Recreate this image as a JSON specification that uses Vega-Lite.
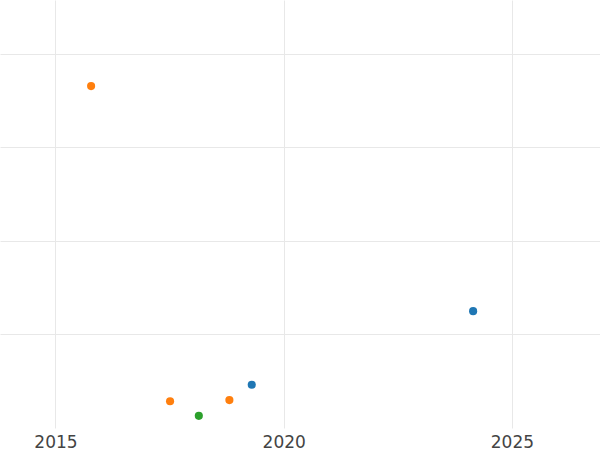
{
  "$schema": "https://vega.github.io/schema/vega-lite/v6.json",
  "width": 600,
  "height": 428,
  "autosize": {"type": "none"},
  "padding": {"left": 0, "right": 0, "top": 0, "bottom": 22},
  "background": "white",
  "config": {"view": {"stroke": null}},
  "data": {
    "values": [
      {"year": 2015.78, "value": 182.6, "group": "B"},
      {"year": 2017.51, "value": 14.3, "group": "B"},
      {"year": 2018.14, "value": 6.5, "group": "C"},
      {"year": 2018.81, "value": 14.9, "group": "B"},
      {"year": 2019.30, "value": 23.1, "group": "A"},
      {"year": 2024.15, "value": 62.4, "group": "A"}
    ]
  },
  "mark": {"type": "circle", "size": 66, "opacity": 1},
  "encoding": {
    "x": {
      "field": "year",
      "type": "quantitative",
      "scale": {"domain": [2013.784, 2026.93], "nice": false, "zero": false},
      "axis": {
        "title": null,
        "values": [2015, 2020, 2025],
        "format": "d",
        "ticks": false,
        "domain": false,
        "grid": true,
        "gridColor": "#e8e8e8",
        "gridWidth": 1,
        "labelFont": "DejaVu Sans",
        "labelFontSize": 17,
        "labelColor": "#444444",
        "labelPadding": 6
      }
    },
    "y": {
      "field": "value",
      "type": "quantitative",
      "scale": {"domain": [0, 228.6], "nice": false, "zero": false},
      "axis": {
        "title": null,
        "values": [50, 100, 150, 200],
        "labels": false,
        "ticks": false,
        "domain": false,
        "grid": true,
        "gridColor": "#e8e8e8",
        "gridWidth": 1
      }
    },
    "color": {
      "field": "group",
      "type": "nominal",
      "scale": {"domain": ["A", "B", "C"], "range": ["#1f77b4", "#ff7f0e", "#2ca02c"]},
      "legend": null
    }
  }
}
